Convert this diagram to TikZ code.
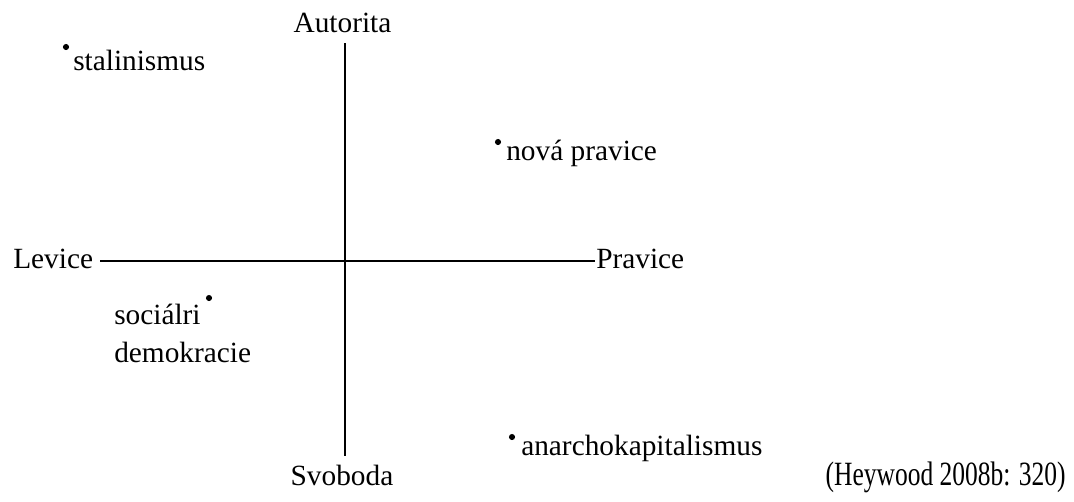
\documentclass[tikz,border=0pt]{standalone}
\usepackage{fontspec}
\setmainfont{Liberation Serif}
\tikzset{
	lbl/.style={inner sep=0pt, font=\fontsize{22}{26}\selectfont},
	dot/.style={circle, fill, inner sep=0pt, minimum size=4.6pt},
	axis/.style={line width=1.2pt}
}
\begin{document}
\begin{tikzpicture}[x=0.75pt, y=-0.75pt]
	\useasboundingbox (0, 0) rectangle (1074, 501);
	\begin{scope}
		\coordinate (top) at (345, 43);
		\coordinate (bot) at (345, 456);
		\coordinate (left) at (100, 261);
		\coordinate (right) at (595, 261);

		\node[lbl, anchor=base] (autorita) at (342.5, 32) {Autorita};
		\node[lbl, anchor=base] (svoboda) at (342, 485) {Svoboda};
		\node[lbl, anchor=base west] (levice) at (13, 268) {Levice};
		\node[lbl, anchor=base west] (pravice) at (596, 268) {Pravice};

		\draw[axis] (top) -- (bot);
		\draw[axis] (left) -- (right);

		\node[dot] (d1) at (66, 47) {};
		\node[lbl, anchor=base west] (stal) at (73, 70) {stalinismus};
		\node[dot] (d2) at (498, 142) {};
		\node[lbl, anchor=base west] (nova) at (506, 160) {nová pravice};
		\node[dot] (d3) at (209, 298) {};
		\node[lbl, anchor=base west] (soc) at (114, 324) {sociálri};
		\node[lbl, anchor=base west] (dem) at (114, 362) {demokracie};
		\node[dot] (d4) at (512, 437) {};
		\node[lbl, anchor=base west] (anarch) at (521, 455) {anarchokapitalismus};

		\node[inner sep=0pt, anchor=base east, font=\fontsize{25.5}{30}\selectfont] (zdroj) at (1066, 485) {\scalebox{0.75}[1]{(Heywood 2008b: 320)}};
	\end{scope}
\end{tikzpicture}
\end{document}
